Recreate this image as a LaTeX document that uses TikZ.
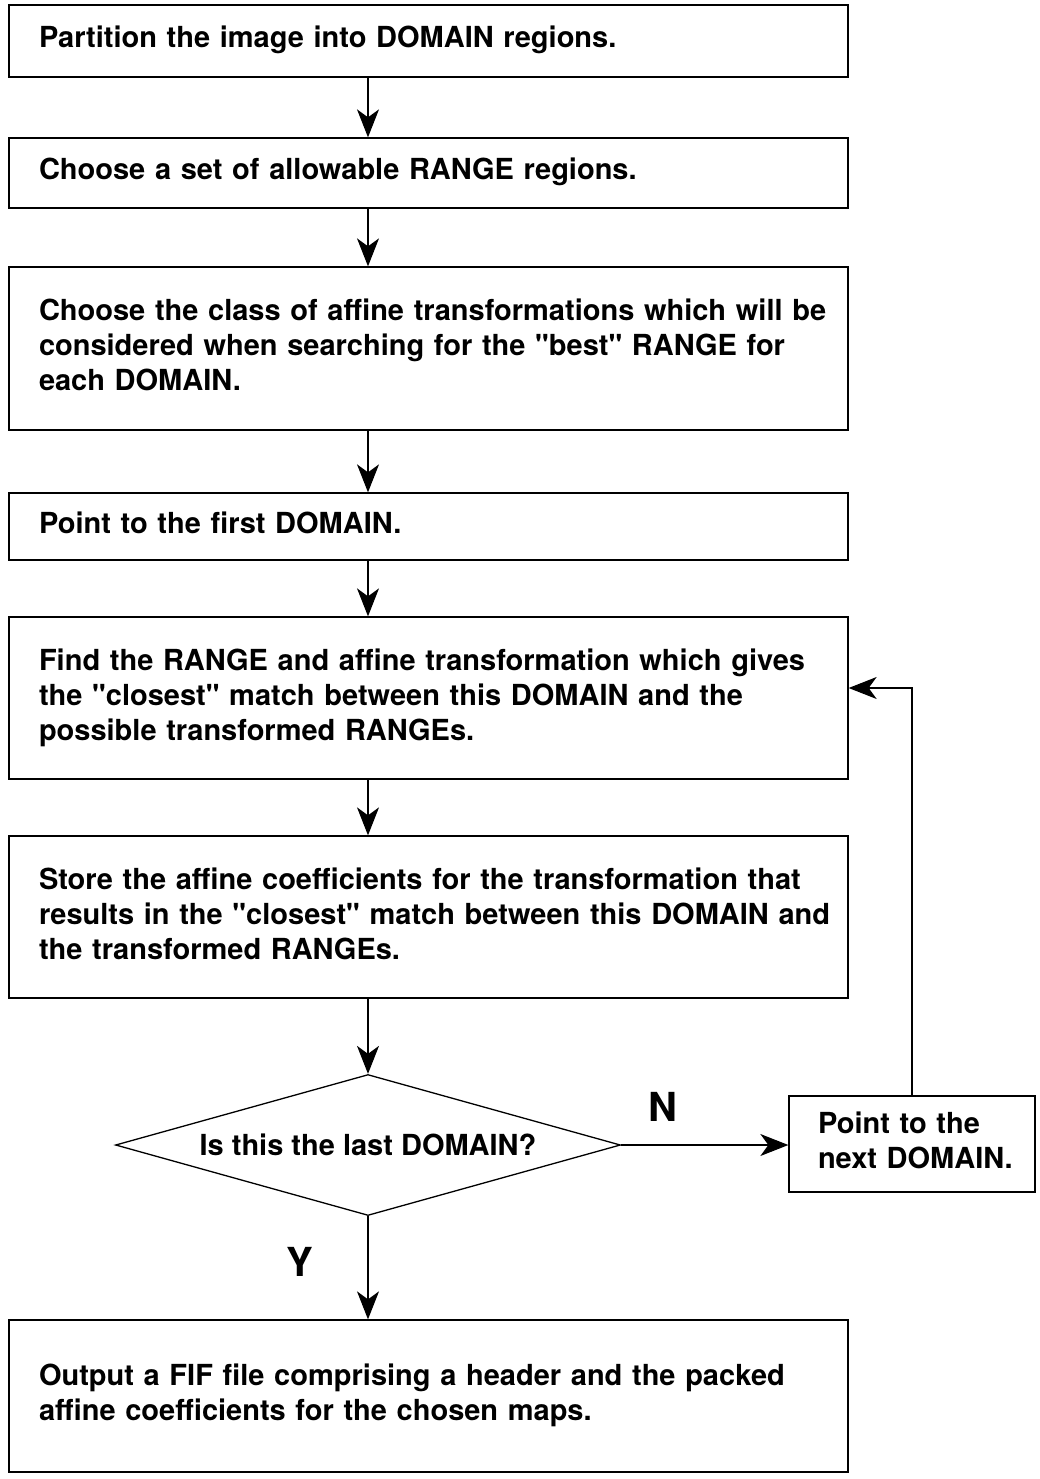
\documentclass[tikz,border=0pt]{standalone}
\usepackage{fontspec}
\setmainfont{TeX Gyre Heros}[Ligatures=TeXOff]
\usepackage{tikz}
\usetikzlibrary{shapes,arrows,arrows.meta}

% lines of a box, set as given (no wrapping)
\newcommand{\boxlines}[1]{\begin{tabular}{@{}l@{}}#1\end{tabular}}

\begin{document}
\begin{tikzpicture}[x=1pt,y=-1pt,
    every node/.style={font=\fontsize{29}{35}\selectfont\bfseries},
    stepbox/.style={draw,line width=1.3pt,align=left,text width=779pt,inner xsep=30pt,inner ysep=0pt},
    flow/.style={line width=1.2pt,-{Stealth[length=28pt,width=22pt,inset=8pt]}}]
    \useasboundingbox (0,0) rectangle (1039,1479);
    \coordinate (spine) at (368,0);

    % Boxes on the main path
    \node [stepbox,minimum height=72pt] (part) at (428.5,41) {\boxlines{Partition the image into DOMAIN regions.}};
    \node [stepbox,minimum height=70pt] (range) at (428.5,173) {\boxlines{Choose a set of allowable RANGE regions.}};
    \node [stepbox,minimum height=163pt] (class) at (428.5,348.5) {\boxlines{Choose the class of affine transformations which will be\\considered when searching for the "best" RANGE for\\each DOMAIN.}};
    \node [stepbox,minimum height=67pt] (first) at (428.5,526.5) {\boxlines{Point to the first DOMAIN.}};
    \node [stepbox,minimum height=162pt] (find) at (428.5,698) {\boxlines{Find the RANGE and affine transformation which gives\\the "closest" match between this DOMAIN and the\\possible transformed RANGEs.}};
    \node [stepbox,minimum height=162pt] (store) at (428.5,917) {\boxlines{Store the affine coefficients for the transformation that\\results in the "closest" match between this DOMAIN and\\the transformed RANGEs.}};

    % Decision and loop back
    \node [diamond,draw,line width=1.3pt,aspect=3.6,inner sep=0pt,minimum width=505pt,minimum height=141pt] (last) at (368,1145) {Is this the last DOMAIN?};
    \node [draw,line width=1.3pt,align=left,inner xsep=29pt,text width=188pt,minimum height=96pt] (next) at (912,1144) {\boxlines{Point to the\\next DOMAIN.}};

    % Output box
    \node [stepbox,minimum height=152pt] (out) at (428.5,1396) {\boxlines{Output a FIF file comprising a header and the packed\\affine coefficients for the chosen maps.}};

    % Connectors
    \draw [flow] (part.south -| spine) -- (range.north -| spine);
    \draw [flow] (range.south -| spine) -- (class.north -| spine);
    \draw [flow] (class.south -| spine) -- (first.north -| spine);
    \draw [flow] (first.south -| spine) -- (find.north -| spine);
    \draw [flow] (find.south -| spine) -- (store.north -| spine);
    \draw [flow] (store.south -| spine) -- (last.north);
    \draw [flow] (last.east) -- (last.east -| next.west);
    \draw [flow] (next.north) |- ([yshift=10pt]find.east);
    \draw [flow] (last.south) -- (out.north -| last.south);

    % Branch labels
    \node [font=\fontsize{40}{40}\selectfont\bfseries] (no) at (663,1107) {N};
    \node [font=\fontsize{40}{40}\selectfont\bfseries] (yes) at (300,1262) {Y};
\end{tikzpicture}
\end{document}
